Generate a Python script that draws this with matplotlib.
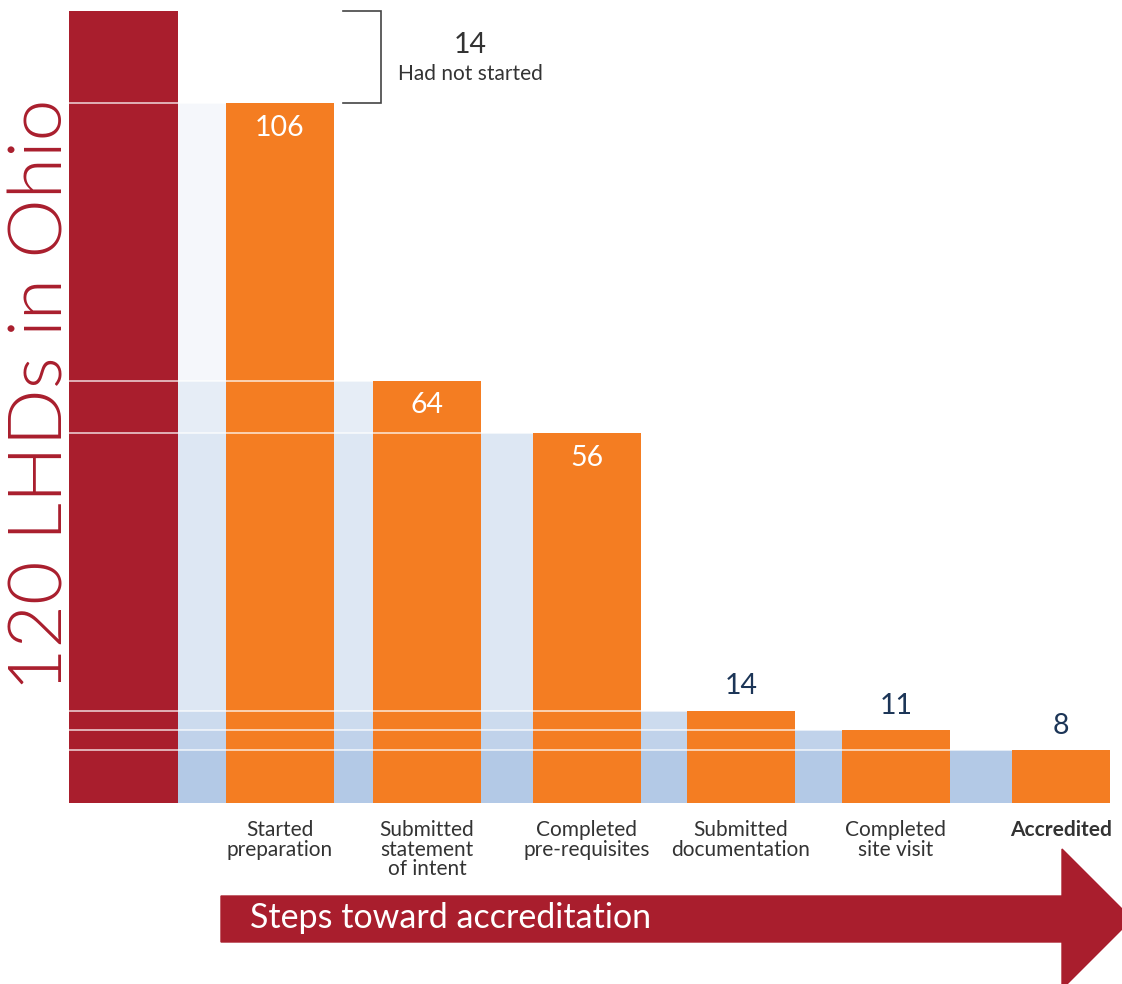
import matplotlib
matplotlib.use("Agg")
import matplotlib.pyplot as plt
from matplotlib.patches import Polygon

# ---- data ----
total = 120
not_started = 14
categories = ["Started\npreparation", "Submitted\nstatement\nof intent",
              "Completed\npre-requisites", "Submitted\ndocumentation",
              "Completed\nsite visit", "Accredited"]
values = [106, 64, 56, 14, 11, 8]
y_title = "120 LHDs in Ohio"
arrow_text = "Steps toward accreditation"
bracket_text = "Had not started"

# ---- style ----
RED = "#a91e2d"
ORANGE = "#f47d22"
NAVY = "#1c3557"
GRAY = "#333333"
shade_colors = ["#f5f7fb", "#e6edf6", "#dde7f3", "#ccdbee", "#c0d2ea", "#b3c9e6"]
FONT = ["Lato", "DejaVu Sans"]

W, H = 1122, 984
fig = plt.figure(figsize=(W / 100, H / 100), dpi=100)
ax = fig.add_axes([0, 0, 1, 1])
PX = 6.6          # pixels per unit
BASE = 803        # pixel row of zero
ax.set_xlim(0, W)
ax.set_ylim(-(H - BASE) / PX, BASE / PX)
ax.axis("off")

def py(p):
    return (BASE - p) / PX

red_left, red_right = 69, 178
bar_left = [226, 373, 533, 687, 842, 1012]
bar_w = [108, 108, 108, 108, 108, 98]
centers = [l + w / 2 for l, w in zip(bar_left, bar_w)]

# red total bar
ax.bar(red_left, total, width=red_right - red_left, align="edge", color=RED, zorder=2)

# shaded steps behind bars
for i, v in enumerate(values):
    ax.bar(red_right, v, width=bar_left[i] - red_right, align="edge",
           color=shade_colors[i], zorder=1 + i * 0.01, linewidth=0)

# orange bars
ax.bar(bar_left, values, width=bar_w, align="edge", color=ORANGE, zorder=3, linewidth=0)

# white level lines
for i, v in enumerate(values):
    ax.hlines(v, red_left, bar_left[i], color="white", alpha=0.7, lw=1.3, zorder=4)

# value labels
for i, v in enumerate(values):
    if v > 30:
        ax.text(centers[i], v - 3.7, str(v), ha="center", va="center", color="white",
                fontsize=20.5, family=FONT, zorder=5)
    else:
        ax.text(centers[i], v + 3.7, str(v), ha="center", va="center", color=NAVY,
                fontsize=20.5, family=FONT, zorder=5)

# category labels
for i, c in enumerate(categories):
    bold = (i == len(categories) - 1)
    ax.text(centers[i], py(820), c, ha="center", va="top", color=GRAY,
            fontsize=15, family=FONT, linespacing=0.98,
            fontweight="bold" if bold else "normal")

# bracket for not started
ax.plot([343, 381, 381, 343], [total, total, total - not_started, total - not_started],
        color="#444444", lw=1.2, zorder=5, solid_joinstyle="miter")
ax.text(470, py(45), str(not_started), ha="center", va="center", color=GRAY,
        fontsize=20.5, family=FONT)
ax.text(470, py(74), bracket_text, ha="center", va="center", color=GRAY,
        fontsize=15, family=FONT)

# y title
ax.text(42, py(395), y_title, rotation=90, ha="center", va="center", color=RED,
        fontsize=54, family=FONT, fontweight=300)

# arrow
arrow = Polygon([(221, py(896)), (1062, py(896)), (1062, py(849)), (1132, py(919)),
                 (1062, py(989)), (1062, py(942)), (221, py(942))],
                closed=True, color=RED, zorder=2, clip_on=False)
ax.add_patch(arrow)
ax.text(250, py(918), arrow_text, ha="left", va="center", color="white",
        fontsize=24.5, family=FONT, zorder=5)

fig.savefig("out.png", dpi=100)
